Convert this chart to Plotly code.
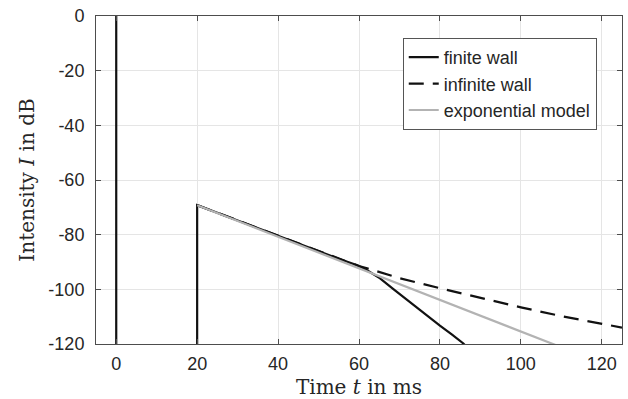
import plotly.graph_objects as go

# finite wall (direct sound spike at 0 ms, reflection at 20 ms, then decay)
finite_t = [0, 0, 0, 20, 20, 30, 40, 50, 55.3, 58, 59.4, 62, 65.2, 68.5, 71.8, 76, 80, 83, 85.8, 86.5]
finite_db = [-200, 0, -200, -200, -69.2, -74.8, -80.5, -86.1, -89.0, -90.4, -91.1, -93.0, -96.0, -99.9, -103.8, -108.7, -113.3, -116.6, -119.8, -121.0]

# infinite wall (identical up to 60 ms, then slower decay)
infinite_t = [20, 30, 40, 50, 55.3, 60, 62, 70, 80, 90, 100, 110, 125]
infinite_db = [-69.2, -74.8, -80.5, -86.1, -89.0, -91.5, -92.3, -95.9, -99.6, -103.2, -106.6, -109.8, -114.0]

# exponential model
exp_t = [20, 108, 110]
exp_db = [-69.2, -120, -121.2]

x_ticks = [0, 20, 40, 60, 80, 100, 120]
x_labels = ["0", "20", "40", "60", "80", "100", "120"]
y_ticks = [0, -20, -40, -60, -80, -100, -120]
y_labels = ["0", "-20", "-40", "-60", "-80", "-100", "-120"]

fig = go.Figure()
fig.add_trace(go.Scatter(x=finite_t, y=finite_db, mode="lines", name="finite wall",
                         line=dict(color="#111111", width=2.2)))
fig.add_trace(go.Scatter(x=infinite_t, y=infinite_db, mode="lines", name="infinite wall",
                         line=dict(color="#111111", width=2.2, dash="15px,9px")))
fig.add_trace(go.Scatter(x=exp_t, y=exp_db, mode="lines", name="exponential model",
                         line=dict(color="#b3b3b3", width=2.2)))

axis_common = dict(
    showline=True, linecolor="#4d4d4d", linewidth=1, mirror="ticks",
    ticks="inside", ticklen=5, tickcolor="#4d4d4d",
    showgrid=True, gridcolor="#e5e5e5", gridwidth=1, zeroline=False,
    tickfont=dict(family="Liberation Sans, Arial", size=18, color="#262626"),
    automargin=False,
)
title_font = dict(family="DejaVu Serif", size=20, color="#262626")

fig.update_layout(
    width=628, height=399,
    margin=dict(l=96, r=6, t=16, b=55),
    paper_bgcolor="white", plot_bgcolor="white",
    xaxis=dict(range=[-5, 125], tickvals=x_ticks, ticktext=x_labels, ticklabelstandoff=3,
               title=dict(text="Time <i>t</i> in ms", standoff=10, font=title_font),
               **axis_common),
    yaxis=dict(range=[-120, 0], tickvals=y_ticks, ticktext=y_labels, ticklabelstandoff=7,
               title=dict(text="Intensity <i>I</i> in dB", standoff=8, font=title_font),
               **axis_common),
    legend=dict(x=0.952, y=0.933, xanchor="right", yanchor="top",
                bgcolor="white", bordercolor="#555555", borderwidth=1,
                font=dict(family="Liberation Sans, Arial", size=18, color="#262626"),
                tracegroupgap=0, itemwidth=30),
    showlegend=True,
)

fig.write_html("out.html")
